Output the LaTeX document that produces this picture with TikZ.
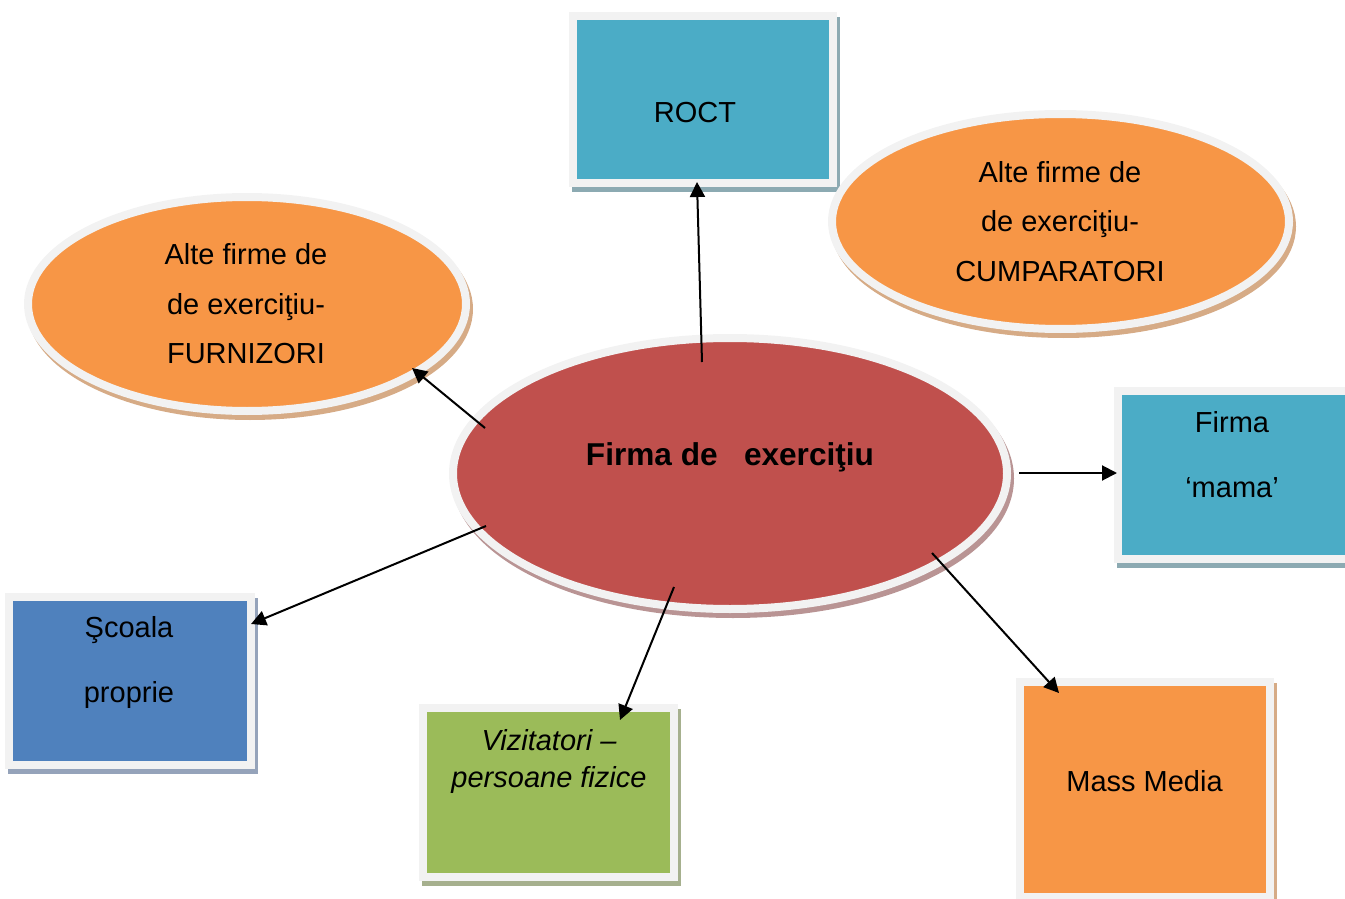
\documentclass[tikz,border=0pt]{standalone}
\usepackage{fontspec}
\setmainfont{Liberation Sans}
\usetikzlibrary{shapes.geometric,arrows.meta}
\definecolor{rim}{HTML}{F2F2F2}
\definecolor{redfill}{HTML}{C0504D}
\definecolor{redsh}{HTML}{B99494}
\definecolor{orangefill}{HTML}{F79646}
\definecolor{orangesh}{HTML}{D6AB86}
\definecolor{aquafill}{HTML}{4BACC6}
\definecolor{aquash}{HTML}{8CAAB2}
\definecolor{bluefill}{HTML}{4F81BD}
\definecolor{bluesh}{HTML}{95A3BA}
\definecolor{greenfill}{HTML}{9BBB59}
\definecolor{greensh}{HTML}{A6B08E}
\tikzset{
  shadowed/.style={preaction={fill=#1, draw=#1, line width=4pt,
      transform canvas={xshift=1.5pt,yshift=-2.5pt}}},
  frame/.style={draw=rim, line width=4pt, inner sep=0pt, outer sep=0pt},
  boxshape/.style={frame, rectangle},
  ellshape/.style={frame, ellipse},
  lbl/.style={font=\fontsize{14.5}{#1}\selectfont, align=center, inner sep=0pt},
  lbl/.default=24.75pt,
  conn/.style={line width=1pt, -{Triangle[length=7.5pt,width=7.5pt]}},
}
\begin{document}
\begin{tikzpicture}[x=0.5pt,y=-0.5pt]
\useasboundingbox (0,0) rectangle (1345,899);

% shapes
\node[boxshape, fill=aquafill, shadowed=aquash, minimum width=130pt, minimum height=83.5pt] (roct) at (703,99.5) {};
\node[boxshape, fill=aquafill, shadowed=aquash, minimum width=121.25pt, minimum height=84pt] (mama) at (1238.75,475) {};
\node[boxshape, fill=bluefill, shadowed=bluesh, minimum width=121pt, minimum height=83.75pt] (scoala) at (130,680.75) {};
\node[boxshape, fill=greenfill, shadowed=greensh, minimum width=125.5pt, minimum height=84.5pt] (viz) at (548.5,792.5) {};
\node[boxshape, fill=orangefill, shadowed=orangesh, minimum width=125pt, minimum height=107.5pt] (media) at (1145,789.5) {};

\node[ellshape, fill=orangefill, shadowed=orangesh, minimum width=219pt, minimum height=107pt] (furn) at (247,304) {};
\node[ellshape, fill=orangefill, shadowed=orangesh, minimum width=228.5pt, minimum height=107.5pt] (cump) at (1060.5,221.5) {};
\node[ellshape, fill=redfill, shadowed=redsh, minimum width=277pt, minimum height=135.5pt] (firma) at (730,473.5) {};

% texts
\node[lbl, anchor=base] (roct-t) at (695,123) {ROCT};
\node[lbl=32.5pt] (mama-t) at (1232,455) {Firma\\‘mama’};
\node[lbl=32.5pt] (scoala-t) at (129,662) {Şcoala\\proprie};
\node[lbl=18.5pt, font=\fontsize{14.5}{18.5}\selectfont\itshape] (viz-t) at (549,761.5) {Vizitatori –\\persoane fizice};
\node[lbl, anchor=base] (media-t) at (1144.5,791) {Mass Media};
\node[lbl] (furn-t) at (246,304) {Alte firme de\\de exerciţiu-\\FURNIZORI};
\node[lbl] (cump-t) at (1060,221.5) {Alte firme de\\de exerciţiu-\\CUMPARATORI};
\node[lbl, anchor=base, font=\fontsize{15.8}{19}\selectfont\bfseries] (firma-t) at (730,465) {Firma de~~~exerciţiu};

% connectors
\coordinate (s1) at (702,362); \coordinate (t1) at (697,182);
\coordinate (s2) at (485,428); \coordinate (t2) at (412,368);
\coordinate (s3) at (1019,473); \coordinate (t3) at (1117,473);
\coordinate (s4) at (486,526); \coordinate (t4) at (251,624);
\coordinate (s5) at (674,587); \coordinate (t5) at (620,720);
\coordinate (s6) at (932,553); \coordinate (t6) at (1059,693);
\draw[conn] (s1) -- (t1);
\draw[conn] (s2) -- (t2);
\draw[conn] (s3) -- (t3);
\draw[conn] (s4) -- (t4);
\draw[conn] (s5) -- (t5);
\draw[conn] (s6) -- (t6);
\end{tikzpicture}
\end{document}
